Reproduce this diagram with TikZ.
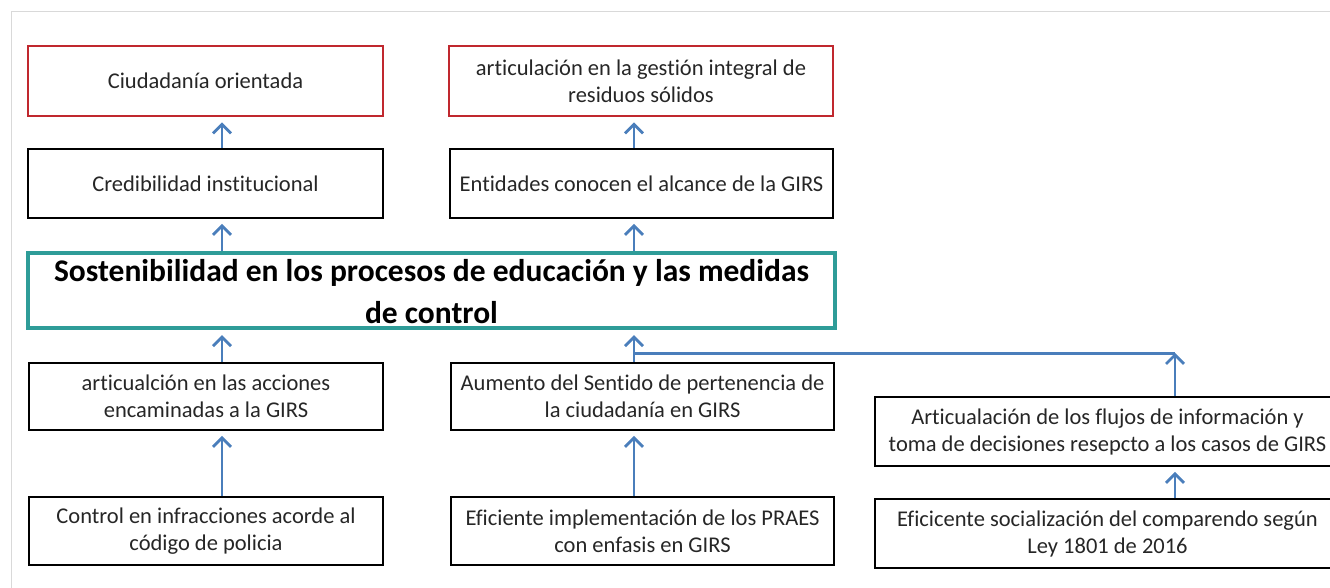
\documentclass[tikz,border=0pt]{standalone}
\usepackage{fontspec}
\setmainfont{Carlito}[Ligatures=NoCommon]
\usepackage{xcolor}
\usepackage{tikz}
\usetikzlibrary{arrows.meta}
\definecolor{rojo}{HTML}{C0282E}
\definecolor{verdea}{HTML}{2E9C98}
\definecolor{azul}{HTML}{4A7EBB}
\begin{document}
\begin{tikzpicture}[x=1pt,y=-1pt,>={Straight Barb[length=9pt,width=18pt]},
caja/.style={draw=black,line width=1.8pt,align=center,inner sep=0pt,text=black!85,font=\fontsize{22.5}{27}\selectfont},
cajaroja/.style={caja,draw=rojo,line width=2.8pt},
titulo/.style={align=center,inner sep=0pt,text=black,yshift=-1pt,font=\bfseries\fontsize{31.5}{42}\selectfont},
flecha/.style={->,azul,line width=2.8pt,shorten >=5pt}]
\useasboundingbox(0,0)rectangle(1330,588);
\draw[black!15,line width=1pt](11,588)--(11,12)--(1330,12);
\node[cajaroja,minimum width=355,minimum height=70](ciud)at(205.5,81){Ciudadanía orientada};
\node[cajaroja,minimum width=384,minimum height=70](gestion)at(641,81){articulación en la gestión integral de\\residuos sólidos};
\node[caja,minimum width=355,minimum height=69](cred)at(205.5,183.5){Credibilidad institucional};
\node[caja,minimum width=383,minimum height=69](entid)at(641.5,183.5){Entidades conocen el alcance de la GIRS};
\node[caja,draw=verdea,line width=4.2pt,minimum width=807,minimum height=75,label={[titulo]center:{Sostenibilidad en los procesos de educación y las medidas\\de control}}](sost)at(431.5,290.5){};
\node[caja,minimum width=354,minimum height=67](accion)at(206,396.5){articualción en las acciones\\encaminadas a la GIRS};
\node[caja,minimum width=383,minimum height=67](aumento)at(642.5,396.5){Aumento del Sentido de pertenencia de\\la ciudadanía en GIRS};
\node[caja,minimum width=465,minimum height=69](flujos)at(1107.5,431.5){Articualación de los flujos de información y\\toma de decisiones resepcto a los casos de GIRS};
\node[caja,minimum width=354,minimum height=68](control)at(206,531){Control en infracciones acorde al\\código de policia};
\node[caja,minimum width=383,minimum height=68](praes)at(642.5,531){Eficiente implementación de los PRAES\\con enfasis en GIRS};
\node[caja,minimum width=465,minimum height=69](ley)at(1107.5,533.5){Eficicente socialización del comparendo según\\Ley 1801 de 2016};
\coordinate(izq)at(222,0);
\coordinate(cen)at(634,0);
\coordinate(der)at(1175,0);
\coordinate(union)at(0,353);
\draw[flecha](cred.north-|izq)--(ciud.south-|izq);
\draw[flecha](sost.north-|izq)--(cred.south-|izq);
\draw[flecha](accion.north-|izq)--(sost.south-|izq);
\draw[flecha](control.north-|izq)--(accion.south-|izq);
\draw[flecha](entid.north-|cen)--(gestion.south-|cen);
\draw[flecha](sost.north-|cen)--(entid.south-|cen);
\draw[flecha](aumento.north-|cen)--(sost.south-|cen);
\draw[flecha](praes.north-|cen)--(aumento.south-|cen);
\draw[flecha](ley.north-|der)--(flujos.south-|der);
\draw[flecha,shorten >=0pt](flujos.north-|der)--(der|-union);
\draw[azul,line width=3pt](der|-union)--(cen|-union);
\end{tikzpicture}
\end{document}
